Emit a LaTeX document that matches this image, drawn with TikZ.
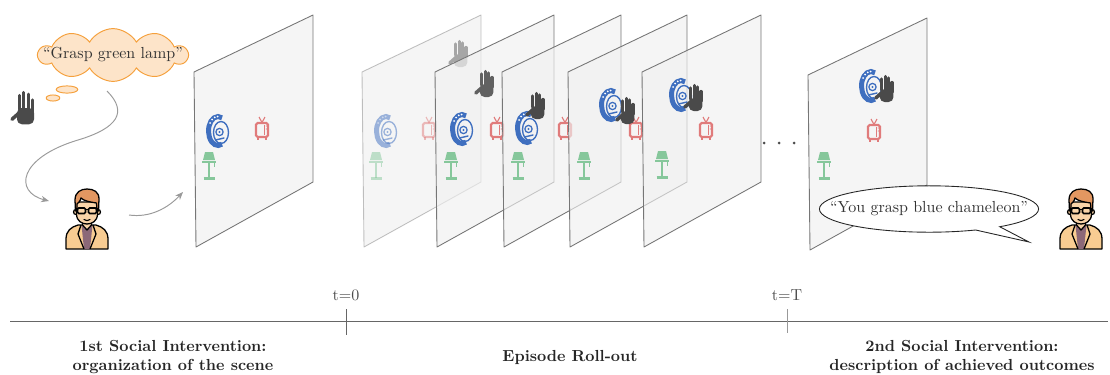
\documentclass[tikz,border=0pt]{standalone}
\usetikzlibrary{shapes.symbols,shapes.geometric,shapes.callouts,arrows.meta}

\definecolor{chamblue}{HTML}{3F6FBF}
\definecolor{tvred}{HTML}{E07B7B}
\definecolor{lampgreen}{HTML}{86C79B}
\definecolor{handgray}{HTML}{4A4A4A}
\definecolor{cloudfill}{HTML}{FDE4C9}
\definecolor{cloudline}{HTML}{F5A03C}
\definecolor{skin}{HTML}{F9D3A8}
\definecolor{hair}{HTML}{E39761}
\definecolor{jacket}{HTML}{F8CC92}
\definecolor{shirt}{HTML}{8C6878}
\definecolor{panelline}{HTML}{767676}
\definecolor{arrowgray}{HTML}{9A9A9A}

% one scene panel: top-left corner #2,#3
\newcommand{\scenepanel}[3][]{%
  \filldraw[panel,#1] (#2,#3) -- ++(119,-57) -- ++(0,167) -- ++(-117,65) -- cycle;}

\tikzset{
  panel/.style={fill=black!6, fill opacity=0.65, draw=panelline, line width=0.55pt, line join=round},
  flow/.style={draw=arrowgray, line width=0.6pt, -{Stealth[length=5pt,width=4pt]}},
  thoughtcloud/.style={cloud, cloud puffs=10, cloud puff arc=120, cloud ignores aspect,
    minimum width=93pt, minimum height=33pt, inner sep=0pt,
    draw=cloudline, fill=cloudfill, line width=0.6pt},
  puff/.style={ellipse, inner sep=0pt, draw=cloudline, fill=cloudfill, line width=0.6pt},
  speech/.style={ellipse callout, minimum width=137pt, minimum height=29pt, inner sep=0pt,
    draw=black!85, fill=white, line width=0.55pt},
  saying/.style={text=black!80, font=\normalsize},
  timeline/.style={draw=black!60, line width=0.6pt},
  stamp/.style={text=black!70},
  phase/.style={align=center, text=black!85, font=\bfseries},
  % icons
  chameleon/.pic={
    \draw[chamblue, line width=0.85pt] (3,1.5) ellipse [x radius=7.5, y radius=11];
    \draw[chamblue, line width=3.1pt] (65:9.5 and 14.5) arc [start angle=65, end angle=295, x radius=9.5, y radius=14.5];
    \foreach \a in {-92,-110,-128,-146} \fill[white] (\a:9.5 and 14.5) circle [radius=1];
    \draw[chamblue, line width=0.8pt] (1.5,1) circle [radius=3.6];
    \fill[chamblue] (1.5,1) circle [radius=1.2];
    \draw[chamblue, line width=0.9pt, line cap=round] (-2.5,9) -- (6,7);
  },
  tv/.pic={
    \draw[tvred, line width=1.3pt, rounded corners=1] (-6,-6) rectangle (6,8);
    \draw[tvred, line width=0.5pt] (2.5,-4) -- (2.5,6);
    \fill[tvred] (4.3,-3) circle [radius=0.6] (4.3,0) circle [radius=0.6];
    \draw[tvred, line width=0.7pt] (-3,-12) -- (0,-6.5) -- (3,-12);
    \draw[tvred, line width=0.9pt] (-4,8) -- (-4,11) (4,8) -- (4,11);
  },
  lamp/.pic={
    \fill[lampgreen] (-4,-13) -- (4,-13) -- (6,-5) -- (-6,-5) -- cycle;
    \fill[lampgreen] (-7,-4.5) rectangle (7,-2);
    \fill[lampgreen] (4.5,-2) rectangle (5.7,1.5);
    \draw[lampgreen, line width=1.1pt] (0,-2) -- (0,13);
    \draw[lampgreen, line width=1.3pt] (-5.5,13.5) -- (5.5,13.5);
  },
  hand/.pic={
    \fill[rounded corners=3] (-5.2,-4) rectangle (8.4,9);
    \draw[line width=2pt, line cap=round] (-3.3,-3) -- (-3.3,-14) (0.2,-3) -- (0.2,-16.5)
      (3.7,-3) -- (3.7,-15) (7,-1) -- (7,-10.5);
    \draw[line width=2.2pt, line cap=round] (-3,-0.5) -- (-9.2,5);
  },
  person/.pic={
    \filldraw[fill=jacket, draw=black, line width=0.8pt, line join=round]
      (-21,0) -- (-21,-10) .. controls (-21,-18) and (-16,-22) .. (-9,-24)
      -- (9,-24) .. controls (16,-22) and (21,-18) .. (21,-10) -- (21,0) -- cycle;
    \fill[shirt] (-5.5,-24) -- (5.5,-24) -- (3,0) -- (-3,0) -- cycle;
    \draw[line width=0.8pt, line join=round] (-6,-24) -- (-9,-15) -- (-3,0) (6,-24) -- (9,-15) -- (3,0);
    \filldraw[fill=skin, draw=black, line width=0.8pt, line join=round]
      (-4.5,-30) -- (-4.5,-24) -- (0,-19) -- (4.5,-24) -- (4.5,-30);
    \filldraw[fill=skin, draw=black, line width=0.8pt] (-11,-37) circle [radius=2.5] (11,-37) circle [radius=2.5];
    \filldraw[fill=skin, draw=black, line width=0.8pt]
      (-10.5,-47) -- (-10.5,-35) .. controls (-10.5,-28) and (-5,-25) .. (0,-25)
      .. controls (5,-25) and (10.5,-28) .. (10.5,-35) -- (10.5,-47) -- cycle;
    \filldraw[fill=hair, draw=black, line width=0.8pt, line join=round]
      (-11.5,-38) -- (-12,-49) .. controls (-12,-57) and (-6,-60) .. (0,-60)
      .. controls (7,-60) and (12,-57) .. (12,-50) -- (11.5,-38) -- (10,-38) -- (9.5,-46)
      .. controls (3,-47) and (-3,-48) .. (-6,-51) .. controls (-7,-47) and (-9,-46) .. (-10,-45)
      -- (-10,-38) -- cycle;
    \draw[line width=1pt, rounded corners=0.8] (-9.5,-41) rectangle (-1.5,-35.5) (1.5,-41) rectangle (9.5,-35.5);
    \draw[line width=0.9pt] (-1.5,-39.5) -- (1.5,-39.5) (-9.5,-40) -- (-11,-40) (9.5,-40) -- (11,-40);
    \draw[line width=0.7pt, line cap=round] (-3,-29.5) .. controls (-1,-28) and (1,-28) .. (3,-29.5);
  }
}

\begin{document}
\begin{tikzpicture}[x=0.625pt, y=-0.625pt]
\useasboundingbox (0,0) rectangle (1110,374);

% ---------- organisation of the scene ----------
\scenepanel{194}{72}
\pic at (218,131) {chameleon};
\pic at (262,129) {tv};
\pic at (209,165) {lamp};

\node[thoughtcloud] (cloud) at (113,55) {};
\node[saying] (cloudtext) at (cloud.center) {``Grasp green lamp''};
\node[puff, minimum width=13.5pt, minimum height=4.5pt] (puffa) at (67,89.5) {};
\node[puff, minimum width=8.5pt, minimum height=3.8pt] (puffb) at (53,98) {};

\pic[color=handgray, scale=1.25] at (23.5,113) {hand};

\pic at (87,249) {person};

\coordinate (bendstart) at (107,91);
\coordinate (bendend) at (49,201);
\draw[flow] (bendstart) .. controls (128,112) and (118,128) .. (78,140)
  .. controls (18,158) and (14,192) .. (bendend);
\coordinate (toscene) at (129,215);
\coordinate (atscene) at (183,192);
\draw[flow] (toscene) .. controls (150,218) and (168,208) .. (atscene);

% ---------- episode roll-out ----------
\scenepanel[draw opacity=0.45]{362}{72}
\begin{scope}[opacity=0.5]
  \pic at (386,131) {chameleon};
  \pic at (429,129) {tv};
  \pic at (376,165) {lamp};
\end{scope}
\pic[color=black!35] at (459,58) {hand};

\scenepanel{435}{72}
\pic at (462,129) {chameleon};
\pic at (497,129) {tv};
\pic at (451,165) {lamp};
\pic[color=black!62] at (485,88) {hand};

\scenepanel{502}{72}
\pic at (527,128) {chameleon};
\pic at (565,129) {tv};
\pic at (518,165) {lamp};
\pic[color=handgray] at (536,110) {hand};

\scenepanel{568}{72}
\pic at (611,105) {chameleon};
\pic at (636,129) {tv};
\pic at (584,165) {lamp};
\pic[color=handgray] at (626,115) {hand};

\scenepanel{642}{72}
\pic at (681,95) {chameleon};
\pic at (706,129) {tv};
\pic at (662,164) {lamp};
\pic[color=handgray] at (694,102) {hand};

\fill[black!70] (764,143) circle [radius=1.5] (779,143) circle [radius=1.5] (794,143) circle [radius=1.5];

% ---------- description of achieved outcomes ----------
\scenepanel{808}{75}
\pic at (871,86) {chameleon};
\pic at (874,131) {tv};
\pic at (824,165) {lamp};
\pic[color=handgray] at (885,93) {hand};

\node[speech, callout absolute pointer={(1029,242)}] (say) at (929,209) {};
\node[saying] (saytext) at (say.center) {``You grasp blue chameleon''};

\pic at (1081,249) {person};

% ---------- time axis ----------
\coordinate (axisleft) at (10,321);
\coordinate (axisright) at (1108,321);
\draw[timeline] (axisleft) -- (axisright);
\coordinate (startup) at (346,309);
\coordinate (startdown) at (346,335);
\draw[timeline] (startup) -- (startdown);
\coordinate (endup) at (787,309);
\coordinate (enddown) at (787,333);
\draw[timeline, draw=black!40] (endup) -- (enddown);
\node[stamp] (tzero) at (346,295) {t=0};
\node[stamp] (tend) at (787,295) {t=T};

\node[phase] (first) at (173,357) {1st Social Intervention:\\organization of the scene};
\node[phase] (rollout) at (570,357) {Episode Roll-out};
\node[phase] (second) at (962,357) {2nd Social Intervention:\\description of achieved outcomes};
\end{tikzpicture}
\end{document}
